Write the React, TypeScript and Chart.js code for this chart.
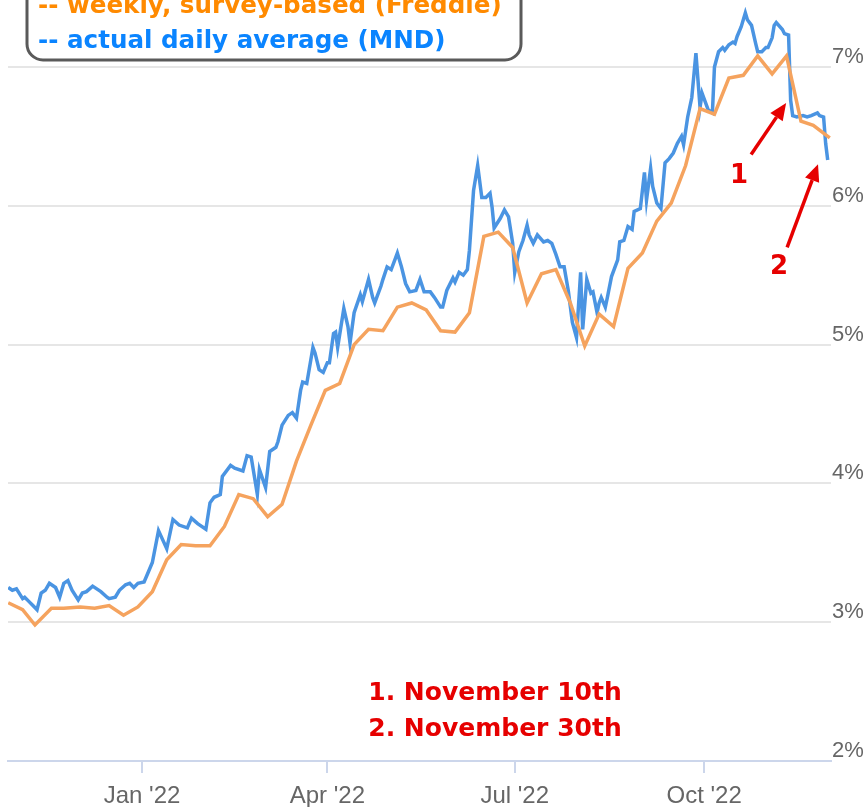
import React, { useEffect, useRef } from 'react';
import { Chart, registerables } from 'chart.js';

Chart.register(...registerables);

// Days are counted from 1 Jan 2022 (day 0).
const weeklyDays = [
  -65, -58, -52, -44, -38, -30, -23, -16, -9, -2,
  5, 12, 19, 26, 33, 40, 47, 54, 61, 68,
  75, 82, 89, 96, 103, 110, 117, 124, 131, 138,
  145, 152, 159, 166, 173, 180, 187, 194, 201, 208,
  215, 222, 229, 236, 243, 250, 257, 264, 271, 278,
  285, 292, 299, 306, 313, 320, 326, 334,
];
const weeklyRates = [
  3.14, 3.09, 2.98, 3.10, 3.10, 3.11, 3.10, 3.12, 3.05, 3.11,
  3.22, 3.45, 3.56, 3.55, 3.55, 3.69, 3.92, 3.89, 3.76, 3.85,
  4.16, 4.42, 4.67, 4.72, 5.00, 5.11, 5.10, 5.27, 5.30, 5.25,
  5.10, 5.09, 5.23, 5.78, 5.81, 5.70, 5.30, 5.51, 5.54, 5.30,
  4.99, 5.22, 5.13, 5.55, 5.66, 5.89, 6.02, 6.29, 6.70, 6.66,
  6.92, 6.94, 7.08, 6.95, 7.08, 6.61, 6.58, 6.49,
];

const dailyDays = [
  -65, -63, -61, -58, -57, -55, -53, -51, -49, -47,
  -45, -42, -40, -38, -36, -34, -31, -29, -27, -24,
  -20, -17, -16, -13, -11, -8, -6, -4, -2, 1,
  3, 5, 8, 12, 15, 18, 22, 24, 27, 31,
  33, 35, 38, 39, 43, 45, 49, 51, 53, 56,
  57, 60, 62, 65, 66, 68, 71, 73, 75, 77,
  78, 80, 83, 84, 86, 88, 90, 91, 93, 94,
  95, 98, 100, 101, 103, 106, 107, 110, 112, 113,
  116, 117, 119, 121, 123, 124, 126, 128, 130, 133,
  135, 137, 140, 142, 145, 146, 148, 151, 152, 154,
  156, 158, 159, 161, 163, 165, 167, 169, 170, 171,
  174, 176, 178, 180, 181, 183, 185, 187, 188, 190,
  192, 195, 197, 199, 201, 203, 205, 207, 209, 211,
  213, 214, 216, 218, 219, 221, 222, 223, 225, 226,
  228, 231, 232, 234, 236, 238, 239, 242, 244, 245,
  247, 248, 250, 252, 254, 256, 258, 260, 262, 263,
  265, 267, 269, 271, 272, 275, 277, 278, 280, 282,
  283, 285, 287, 288, 289, 291, 293, 294, 296, 298,
  299, 301, 303, 304, 306, 307, 308, 311, 312, 314,
  315, 316, 318, 321, 323, 325, 328, 329, 331, 332,
  333,
];
const dailyRates = [
  3.25, 3.23, 3.24, 3.17, 3.18, 3.15, 3.12, 3.09, 3.21, 3.23,
  3.28, 3.25, 3.18, 3.28, 3.30, 3.23, 3.16, 3.21, 3.22, 3.26,
  3.22, 3.18, 3.17, 3.18, 3.23, 3.27, 3.28, 3.25, 3.28, 3.29,
  3.36, 3.43, 3.66, 3.53, 3.74, 3.70, 3.68, 3.75, 3.71, 3.67,
  3.86, 3.90, 3.92, 4.05, 4.13, 4.11, 4.09, 4.20, 4.19, 3.92,
  4.10, 3.97, 4.23, 4.26, 4.30, 4.42, 4.49, 4.51, 4.47, 4.67,
  4.73, 4.72, 4.98, 4.94, 4.82, 4.80, 4.87, 4.87, 5.08, 5.09,
  4.98, 5.26, 5.13, 5.01, 5.23, 5.36, 5.31, 5.47, 5.34, 5.30,
  5.42, 5.47, 5.56, 5.54, 5.62, 5.66, 5.56, 5.44, 5.38, 5.39,
  5.47, 5.38, 5.38, 5.34, 5.27, 5.27, 5.39, 5.48, 5.45, 5.52,
  5.50, 5.54, 5.68, 6.11, 6.29, 6.06, 6.06, 6.09, 5.99, 5.84,
  5.91, 5.97, 5.92, 5.73, 5.52, 5.67, 5.75, 5.86, 5.79, 5.73,
  5.79, 5.74, 5.75, 5.73, 5.65, 5.56, 5.56, 5.39, 5.16, 5.05,
  5.52, 5.11, 5.47, 5.37, 5.38, 5.23, 5.30, 5.34, 5.27, 5.34,
  5.49, 5.61, 5.74, 5.75, 5.85, 5.83, 5.96, 5.98, 6.24, 6.04,
  6.27, 6.14, 6.02, 5.98, 6.31, 6.34, 6.38, 6.45, 6.50, 6.44,
  6.64, 6.78, 7.10, 6.71, 6.81, 6.69, 6.67, 7.00, 7.11, 7.14,
  7.12, 7.16, 7.18, 7.17, 7.22, 7.29, 7.39, 7.34, 7.30, 7.17,
  7.11, 7.11, 7.14, 7.14, 7.21, 7.30, 7.32, 7.27, 7.24, 7.23,
  6.76, 6.65, 6.64, 6.65, 6.64, 6.65, 6.67, 6.65, 6.64, 6.45,
  6.33,
];

const xTickDays = [0, 90, 181, 273];
const xTickLabels = ["Jan '22", "Apr '22", "Jul '22", "Oct '22"];
const yTickValues = [2, 3, 4, 5, 6, 7];

const legendLines = ['-- weekly, survey-based (Freddie)', '-- actual daily average (MND)'];
const noteLines = ['1. November 10th', '2. November 30th'];
const arrowLabels = ['1', '2'];

// annotation anchors in data space (day, rate)
const arrowTails = [[295.8, 6.37], [313.3, 5.70]];
const arrowHeads = [[312.8, 6.74], [328.3, 6.30]];
const arrowLabelAnchors = [[290.0, 6.21], [309.4, 5.56]];
const noteAnchor = [171.4, 2.485];

const RED = '#e60000';

function drawArrow(ctx: CanvasRenderingContext2D, x1: number, y1: number, x2: number, y2: number) {
  const ang = Math.atan2(y2 - y1, x2 - x1);
  const head = 17;
  const hw = 7.5;
  const bx = x2 - head * Math.cos(ang);
  const by = y2 - head * Math.sin(ang);
  ctx.beginPath();
  ctx.moveTo(x1, y1);
  ctx.lineTo(bx, by);
  ctx.stroke();
  ctx.beginPath();
  ctx.moveTo(x2, y2);
  ctx.lineTo(bx + hw * Math.sin(ang), by - hw * Math.cos(ang));
  ctx.lineTo(bx - hw * Math.sin(ang), by + hw * Math.cos(ang));
  ctx.closePath();
  ctx.fill();
}

const notesPlugin = {
  id: 'notes',
  afterDraw(chart: any) {
    const { ctx, chartArea, scales } = chart;
    const xs = scales.x;
    const ys = scales.y;
    ctx.save();

    // legend box (top cut off)
    const bx = chartArea.left + 19;
    const by = -40;
    const bw = 494;
    const bh = 100;
    ctx.beginPath();
    ctx.roundRect(bx, by, bw, bh, 16);
    ctx.fillStyle = '#ffffff';
    ctx.fill();
    ctx.lineWidth = 3;
    ctx.strokeStyle = '#5a5a5a';
    ctx.stroke();
    ctx.font = 'bold 24.6px "DejaVu Sans"';
    ctx.textAlign = 'left';
    ctx.textBaseline = 'alphabetic';
    ctx.fillStyle = '#ff8a00';
    ctx.fillText(legendLines[0], bx + 11, 13);
    ctx.fillStyle = '#0a84ff';
    ctx.fillText(legendLines[1], bx + 11, 48);

    // arrows
    ctx.strokeStyle = RED;
    ctx.fillStyle = RED;
    ctx.lineWidth = 3.5;
    ctx.lineCap = 'butt';
    for (let i = 0; i < arrowTails.length; i++) {
      drawArrow(
        ctx,
        xs.getPixelForValue(arrowTails[i][0]),
        ys.getPixelForValue(arrowTails[i][1]),
        xs.getPixelForValue(arrowHeads[i][0]),
        ys.getPixelForValue(arrowHeads[i][1])
      );
    }
    ctx.font = 'bold 26px "DejaVu Sans"';
    ctx.textAlign = 'center';
    ctx.textBaseline = 'middle';
    for (let i = 0; i < arrowLabels.length; i++) {
      ctx.fillText(
        arrowLabels[i],
        xs.getPixelForValue(arrowLabelAnchors[i][0]),
        ys.getPixelForValue(arrowLabelAnchors[i][1])
      );
    }

    // bottom notes
    ctx.font = 'bold 25px "DejaVu Sans"';
    const nx = xs.getPixelForValue(noteAnchor[0]);
    const ny = ys.getPixelForValue(noteAnchor[1]);
    noteLines.forEach((t, i) => ctx.fillText(t, nx, ny + i * 36));

    ctx.restore();
  },
};

export default function App() {
  const ref = useRef<HTMLCanvasElement>(null);
  useEffect(() => {
    const chart = new Chart(ref.current as HTMLCanvasElement, {
      type: 'line',
      data: {
        datasets: [
          {
            label: 'weekly, survey-based (Freddie)',
            data: weeklyDays.map((d, i) => ({ x: d, y: weeklyRates[i] })),
            borderColor: '#f5a35e',
            borderWidth: 3.5,
            pointRadius: 0,
            tension: 0,
            order: 0,
          },
          {
            label: 'actual daily average (MND)',
            data: dailyDays.map((d, i) => ({ x: d, y: dailyRates[i] })),
            borderColor: '#4a94e2',
            borderWidth: 3.5,
            pointRadius: 0,
            tension: 0,
            order: 1,
          },
        ],
      },
      options: {
        animation: false,
        responsive: false,
        devicePixelRatio: 1,
        layout: { padding: { left: 8, right: 0, top: 0, bottom: 0 } },
        plugins: { legend: { display: false }, tooltip: { enabled: false } },
        scales: {
          x: {
            type: 'linear',
            min: -65.1,
            max: 334.6,
            afterBuildTicks: (s: any) => {
              s.ticks = xTickDays.map((v) => ({ value: v }));
            },
            afterFit: (s: any) => {
              s.height = 46;
              s.paddingLeft = 0;
              s.paddingRight = 0;
            },
            ticks: {
              autoSkip: false,
              maxRotation: 0,
              padding: 9,
              color: '#666666',
              font: { family: '"Liberation Sans", Arial, sans-serif', size: 24 },
              callback: (v: any) => {
                const i = xTickDays.indexOf(Number(v));
                return i >= 0 ? xTickLabels[i] : '';
              },
            },
            grid: {
              drawOnChartArea: false,
              drawTicks: true,
              tickLength: 12,
              color: '#ccd6eb',
              lineWidth: 2,
            },
            border: { display: true, color: '#ccd6eb', width: 2 },
          },
          y: {
            position: 'right',
            min: 2,
            max: 7.4827,
            afterBuildTicks: (s: any) => {
              s.ticks = yTickValues.map((v) => ({ value: v }));
            },
            afterFit: (s: any) => {
              s.width = 33;
              s.paddingTop = 0;
              s.paddingBottom = 0;
            },
            ticks: {
              padding: 1,
              labelOffset: -10,
              color: '#666666',
              font: { family: '"Liberation Sans", Arial, sans-serif', size: 22 },
              callback: (v: any) => `${v}%`,
            },
            grid: { color: '#e6e6e6', lineWidth: 2, drawTicks: false },
            border: { display: false },
          },
        },
      },
      plugins: [notesPlugin],
    });
    return () => chart.destroy();
  }, []);

  return (
    <div style={{ position: 'absolute', left: 0, top: 0, width: 864, height: 807 }}>
      <canvas ref={ref} width={864} height={807} style={{ display: 'block' }} />
    </div>
  );
}
